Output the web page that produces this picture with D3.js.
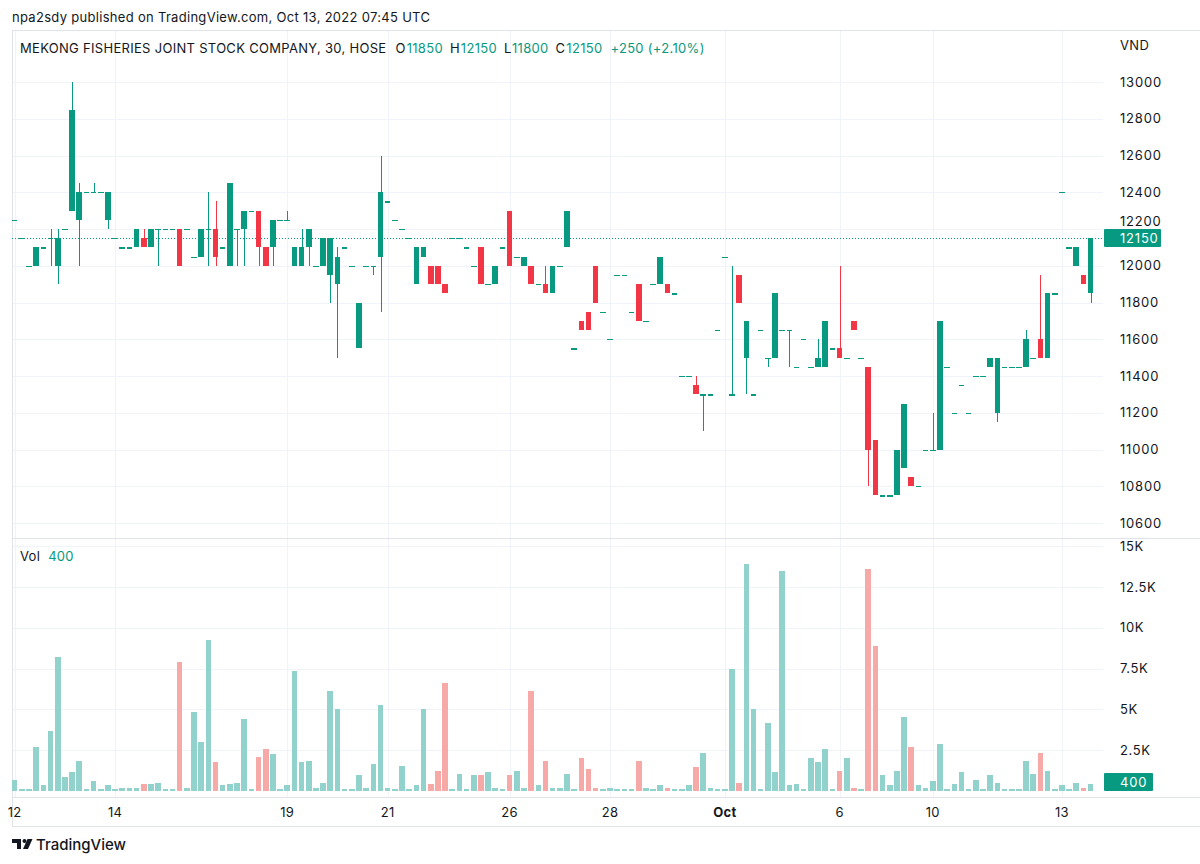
<!DOCTYPE html>
<html>
<head>
<meta charset="utf-8">
<script src="https://cdn.jsdelivr.net/npm/d3@7/dist/d3.min.js"></script>
<style>
  body { margin: 0; background: #fff; }
  svg text { font-family: Inter, "Noto Sans", sans-serif; fill: #131722; }
</style>
</head>
<body>
<svg id="chart" width="1200" height="864"></svg>
<script>
// 30 minute bars, MEKONG FISHERIES (HOSE), 12 Sep - 13 Oct 2022
const opens = [
  12250,12150,12000,12000,12100,12150,12000,12200,12300,12250,
  12400,12400,12400,12250,12150,12100,12100,12100,12150,12100,
  12200,12200,12200,12200,12200,12050,12050,12200,12200,12100,
  12000,12200,12200,12300,12300,12100,12100,12250,12250,12000,
  12000,12100,12000,12000,11950,11900,12100,12000,11550,12000,
  12000,12050,12350,12250,12200,12150,11900,12050,12000,12000,
  11900,12150,12150,12100,12000,12100,11900,11900,12100,12300,
  12050,12000,12000,11900,11900,11850,12000,12100,11550,11700,
  11750,12000,11750,11600,11950,11950,11750,11900,11700,11900,
  11900,11900,11850,11400,11400,11350,11300,11300,11650,12050,
  11300,11950,11500,11300,11650,11500,11500,11650,11650,11450,
  11600,11450,11450,11450,11550,11550,11500,11700,11500,11450,
  11050,10750,10750,10750,10900,10850,10800,11000,11000,11000,
  11450,11200,11350,11200,11400,11400,11450,11200,11450,11450,
  11450,11450,11500,11600,11500,11850,12400,12100,12000,11950,
  11850
];
const highs = [
  12250,12150,12000,12100,12100,12200,12200,12200,13000,12450,
  12400,12450,12400,12400,12150,12100,12100,12200,12200,12200,
  12200,12200,12200,12200,12200,12050,12200,12400,12350,12100,
  12450,12200,12300,12300,12300,12100,12250,12250,12300,12100,
  12200,12200,12000,12150,12150,12100,12100,12000,11800,12000,
  12000,12600,12350,12250,12200,12150,12100,12100,12000,12000,
  11900,12150,12150,12100,12000,12100,11900,12000,12100,12300,
  12050,12050,12000,11900,12000,12000,12000,12300,11550,11700,
  11750,12000,11750,11600,11950,11950,11750,11900,11700,11900,
  12050,11900,11850,11400,11400,11400,11300,11300,11650,12050,
  12000,11950,11700,11300,11650,11500,11850,11650,11650,11450,
  11600,11450,11600,11700,11550,12000,11500,11700,11500,11450,
  11050,10750,10750,11000,11250,10850,10800,11000,11200,11700,
  11450,11200,11350,11200,11400,11400,11500,11500,11450,11450,
  11450,11650,11500,11950,11850,11850,12400,12100,12100,11950,
  12150
];
const lows = [
  12250,12150,12000,12000,12100,12000,11900,12200,12300,12000,
  12400,12400,12400,12200,12150,12100,12100,12100,12100,12100,
  12000,12200,12200,12000,12200,12050,12050,12000,12000,12100,
  12000,12000,12000,12300,12000,12000,12000,12250,12250,12000,
  12000,12000,12000,12000,11800,11500,12100,12000,11550,12000,
  11950,11750,12350,12250,12200,12150,11900,12050,11900,11900,
  11850,12150,12150,12100,12000,11900,11900,11900,12100,12000,
  12050,12000,11900,11900,11850,11850,12000,12100,11550,11650,
  11650,11800,11750,11600,11950,11950,11750,11700,11700,11900,
  11900,11850,11850,11400,11400,11300,11100,11300,11650,12050,
  11300,11800,11300,11300,11650,11450,11500,11650,11450,11450,
  11600,11450,11450,11450,11550,11500,11500,11650,11500,10800,
  10750,10750,10750,10750,10900,10800,10800,11000,11000,11000,
  11450,11200,11350,11200,11400,11400,11450,11150,11450,11450,
  11450,11450,11500,11500,11500,11850,12400,12100,12000,11900,
  11800
];
const closes = [
  12250,12150,12000,12100,12100,12150,12150,12200,12850,12400,
  12400,12400,12400,12400,12150,12100,12100,12200,12100,12200,
  12200,12200,12200,12000,12200,12050,12200,12200,12050,12100,
  12450,12200,12300,12300,12100,12000,12250,12250,12250,12100,
  12100,12200,12000,12150,12150,12050,12100,12000,11800,12000,
  12000,12400,12350,12250,12200,12150,12100,12100,11900,11900,
  11850,12150,12150,12100,12000,11900,11900,12000,12100,12000,
  12050,12050,11900,11900,11850,12000,12000,12300,11550,11650,
  11650,11800,11750,11600,11950,11950,11750,11700,11700,11900,
  12050,11850,11850,11400,11400,11300,11300,11300,11650,12050,
  11300,11800,11700,11300,11650,11500,11850,11650,11650,11450,
  11600,11450,11500,11700,11550,11500,11500,11650,11500,11000,
  10750,10750,10750,11000,11250,10800,10800,11000,11000,11700,
  11450,11200,11350,11200,11400,11400,11500,11500,11450,11450,
  11450,11600,11500,11500,11850,11850,12400,12100,12100,11900,
  12150
];
const volumes = [
  700,150,150,2700,350,3700,8200,850,1150,1850,
  150,600,150,350,150,200,200,200,400,400,
  500,150,150,7900,200,4850,3000,9250,1750,350,
  400,500,4400,150,2100,2550,2250,150,350,7350,
  1750,1850,200,500,6150,5000,150,150,950,200,
  1650,5250,200,150,1550,150,350,5000,400,1200,
  6600,150,1050,150,950,950,1150,200,150,950,
  1200,200,6150,350,1850,200,200,1050,150,2000,
  1350,200,150,200,150,150,150,1850,200,150,
  350,200,150,150,350,1450,2350,200,150,150,
  7500,500,13900,5000,150,4150,1150,13500,350,400,
  150,2000,1750,2550,150,1250,2000,200,150,13600,
  8900,950,350,1250,4550,2700,350,200,600,2900,
  150,400,1150,150,700,150,950,500,150,150,
  150,1850,1050,2350,1200,150,350,150,500,200,
  400
];

// time axis: bar index of first bar of each labelled day
const dayTickBars   = [0, 14, 38, 52, 69, 83, 99, 115, 128, 146];
const dayTickLabels = ['12', '14', '19', '21', '26', '28', 'Oct', '6', '10', '13'];
const priceTicks = [10600, 10800, 11000, 11200, 11400, 11600, 11800, 12000, 12200, 12400, 12600, 12800, 13000];
const volTicks = [2500, 5000, 7500, 10000, 12500, 15000];
const volTickLabels = ['2.5K', '5K', '7.5K', '10K', '12.5K', '15K'];

const up = '#089981', down = '#f23645';
const volUp = '#92d2cc', volDown = '#f7a9a7';
const gridColor = '#f0f3fa', borderColor = '#e0e3eb';

const pane = {left: 12, right: 1103, top: 30, split: 538, bottom: 797};

const svg = d3.select('#chart');
const n = opens.length;
const bars = d3.range(n);

// x scale
const x = d3.scaleBand()
  .domain(bars)
  .range([11.1, 1094.2])
  .paddingInner(0.22)
  .paddingOuter(0.11);
const cx = i => x(i) + x.bandwidth() / 2;

// y scales
const y = d3.scaleLinear().domain([10600, 13000]).range([523, 82]);
const yv = d3.scaleLinear().domain([0, 15000]).range([791, 546]);

svg.append('defs').append('clipPath').attr('id', 'plot')
  .append('rect')
  .attr('x', pane.left).attr('y', pane.top)
  .attr('width', pane.right - pane.left).attr('height', pane.bottom - pane.top);

// grid
const grid = svg.append('g').attr('stroke', gridColor).attr('shape-rendering', 'crispEdges');
grid.selectAll('.gy').data(priceTicks).join('line')
  .attr('x1', pane.left).attr('x2', pane.right)
  .attr('y1', d => Math.round(y(d)) + 0.5).attr('y2', d => Math.round(y(d)) + 0.5);
grid.selectAll('.gv').data(volTicks).join('line')
  .attr('x1', pane.left).attr('x2', pane.right)
  .attr('y1', d => Math.round(yv(d)) + 0.5).attr('y2', d => Math.round(yv(d)) + 0.5);
grid.selectAll('.gx').data(dayTickBars).join('line')
  .attr('x1', d => Math.round(cx(d)) + 0.5).attr('x2', d => Math.round(cx(d)) + 0.5)
  .attr('y1', pane.top).attr('y2', pane.bottom);

// frame
const frame = svg.append('g').attr('stroke', borderColor).attr('shape-rendering', 'crispEdges');
frame.append('line').attr('x1', pane.left).attr('x2', 1200).attr('y1', pane.top + 0.5).attr('y2', pane.top + 0.5);
frame.append('line').attr('x1', pane.left).attr('x2', 1200).attr('y1', pane.split + 0.5).attr('y2', pane.split + 0.5);
frame.append('line').attr('x1', pane.left).attr('x2', 1200).attr('y1', pane.bottom + 0.5).attr('y2', pane.bottom + 0.5);
frame.append('line').attr('x1', pane.left + 0.5).attr('x2', pane.left + 0.5).attr('y1', pane.top).attr('y2', 826);
frame.append('line').attr('x1', pane.left).attr('x2', 1200).attr('y1', 826.5).attr('y2', 826.5);

const plot = svg.append('g').attr('clip-path', 'url(#plot)');

// volume bars
plot.append('g').attr('shape-rendering', 'crispEdges')
  .selectAll('rect').data(bars).join('rect')
  .attr('x', i => x(i))
  .attr('width', x.bandwidth())
  .attr('y', i => yv(volumes[i]))
  .attr('height', i => yv(0) - yv(volumes[i]))
  .attr('fill', i => closes[i] < opens[i] ? volDown : volUp);

// last price line
plot.append('line')
  .attr('x1', pane.left).attr('x2', pane.right)
  .attr('y1', Math.round(y(closes[n - 1])) + 0.5).attr('y2', Math.round(y(closes[n - 1])) + 0.5)
  .attr('stroke', up).attr('stroke-dasharray', '1,2');

// candles
const candles = plot.append('g').attr('shape-rendering', 'crispEdges')
  .selectAll('g').data(bars).join('g')
  .attr('fill', i => closes[i] < opens[i] ? down : up)
  .attr('stroke', i => closes[i] < opens[i] ? down : up);

candles.append('line')
  .attr('x1', i => Math.round(cx(i)) + 0.5).attr('x2', i => Math.round(cx(i)) + 0.5)
  .attr('y1', i => y(highs[i])).attr('y2', i => y(lows[i]));

candles.append('rect')
  .attr('stroke', 'none')
  .attr('x', i => x(i))
  .attr('width', x.bandwidth())
  .attr('y', i => y(Math.max(opens[i], closes[i])))
  .attr('height', i => Math.max(1.2, Math.abs(y(opens[i]) - y(closes[i]))));

// price axis; the label next to the last-price tag is lifted a little so it peeks out above it
const lastY = y(closes[n - 1]);
const yAxis = svg.append('g')
  .attr('transform', `translate(${pane.right},0)`)
  .call(d3.axisRight(y).tickValues(priceTicks).tickSize(0).tickPadding(17).tickFormat(d3.format('d')));
yAxis.select('.domain').remove();
yAxis.selectAll('text').attr('font-size', 13).attr('letter-spacing', 0.8).style('fill', '#131722')
  .attr('dy', d => Math.abs(y(d) - lastY) < 14 ? '-0.25em' : '0.32em');

svg.append('text').attr('x', 1120).attr('y', 50).attr('font-size', 13).attr('letter-spacing', 0.4).text('VND');

// volume axis
const vAxis = svg.append('g')
  .attr('transform', `translate(${pane.right},0)`)
  .call(d3.axisRight(yv).tickValues(volTicks).tickSize(0).tickPadding(17)
    .tickFormat((d, i) => volTickLabels[i]));
vAxis.select('.domain').remove();
vAxis.selectAll('text').attr('font-size', 13).attr('letter-spacing', 0.6).style('fill', '#131722');

// last value labels
function tag(val, yPos, w) {
  const g = svg.append('g').attr('transform', `translate(${pane.right + 1},${Math.round(yPos) - 9})`);
  g.append('rect').attr('width', w).attr('height', 18).attr('rx', 1).attr('fill', up);
  g.append('text').attr('x', 16).attr('y', 13.5).attr('font-size', 13).attr('letter-spacing', 0.8)
    .style('fill', '#fff').text(val);
}
tag(closes[n - 1], lastY, 57);
tag(volumes[n - 1], yv(volumes[n - 1]) - 2, 49);

// time axis
const xAxisG = svg.append('g')
  .attr('transform', `translate(0,${pane.bottom})`)
  .call(d3.axisBottom(x).tickValues(dayTickBars).tickSize(0).tickPadding(11)
    .tickFormat((d, i) => dayTickLabels[i]));
xAxisG.select('.domain').remove();
xAxisG.selectAll('text').attr('font-size', 13).attr('letter-spacing', 0.3).style('fill', '#131722')
  .attr('font-weight', (d, i) => dayTickLabels[i] === 'Oct' ? 700 : 400);

// legends: change is against the previous bar's close
const chg = closes[n - 1] - closes[n - 2];
const pct = (chg / closes[n - 2] * 100).toFixed(2);
const legend = svg.append('text').attr('x', 20).attr('y', 53).attr('font-size', 13).attr('letter-spacing', 0.3);
legend.append('tspan').text('MEKONG FISHERIES JOINT STOCK COMPANY, 30, HOSE');
[['O', opens], ['H', highs], ['L', lows], ['C', closes]].forEach(([k, arr], j) => {
  legend.append('tspan').attr('dx', j === 0 ? 9 : 7).text(k);
  legend.append('tspan').attr('dx', 1).style('fill', up).text(arr[n - 1]);
});
legend.append('tspan').attr('dx', 8).style('fill', up).text(`+${chg} (+${pct}%)`);

const vlegend = svg.append('text').attr('x', 20).attr('y', 561).attr('font-size', 13).attr('letter-spacing', 0.3);
vlegend.append('tspan').text('Vol');
vlegend.append('tspan').attr('dx', 8).style('fill', up).text(volumes[n - 1]);

svg.append('text').attr('x', 12).attr('y', 22).attr('font-size', 13).attr('letter-spacing', 0.3)
  .text('npa2sdy published on TradingView.com, Oct 13, 2022 07:45 UTC');

// footer logo
const logo = svg.append('g').attr('fill', '#131722');
logo.append('path').attr('d', 'M12 839 h9 v10 h-4 v-6 h-5 z');
logo.append('circle').attr('cx', 24.5).attr('cy', 841).attr('r', 2);
logo.append('path').attr('d', 'M27.5 839 h5 l-4.5 10 h-5 z');
svg.append('text').attr('x', 36).attr('y', 850).attr('font-size', 15).attr('font-weight', 500)
  .text('TradingView');
</script>
</body>
</html>
